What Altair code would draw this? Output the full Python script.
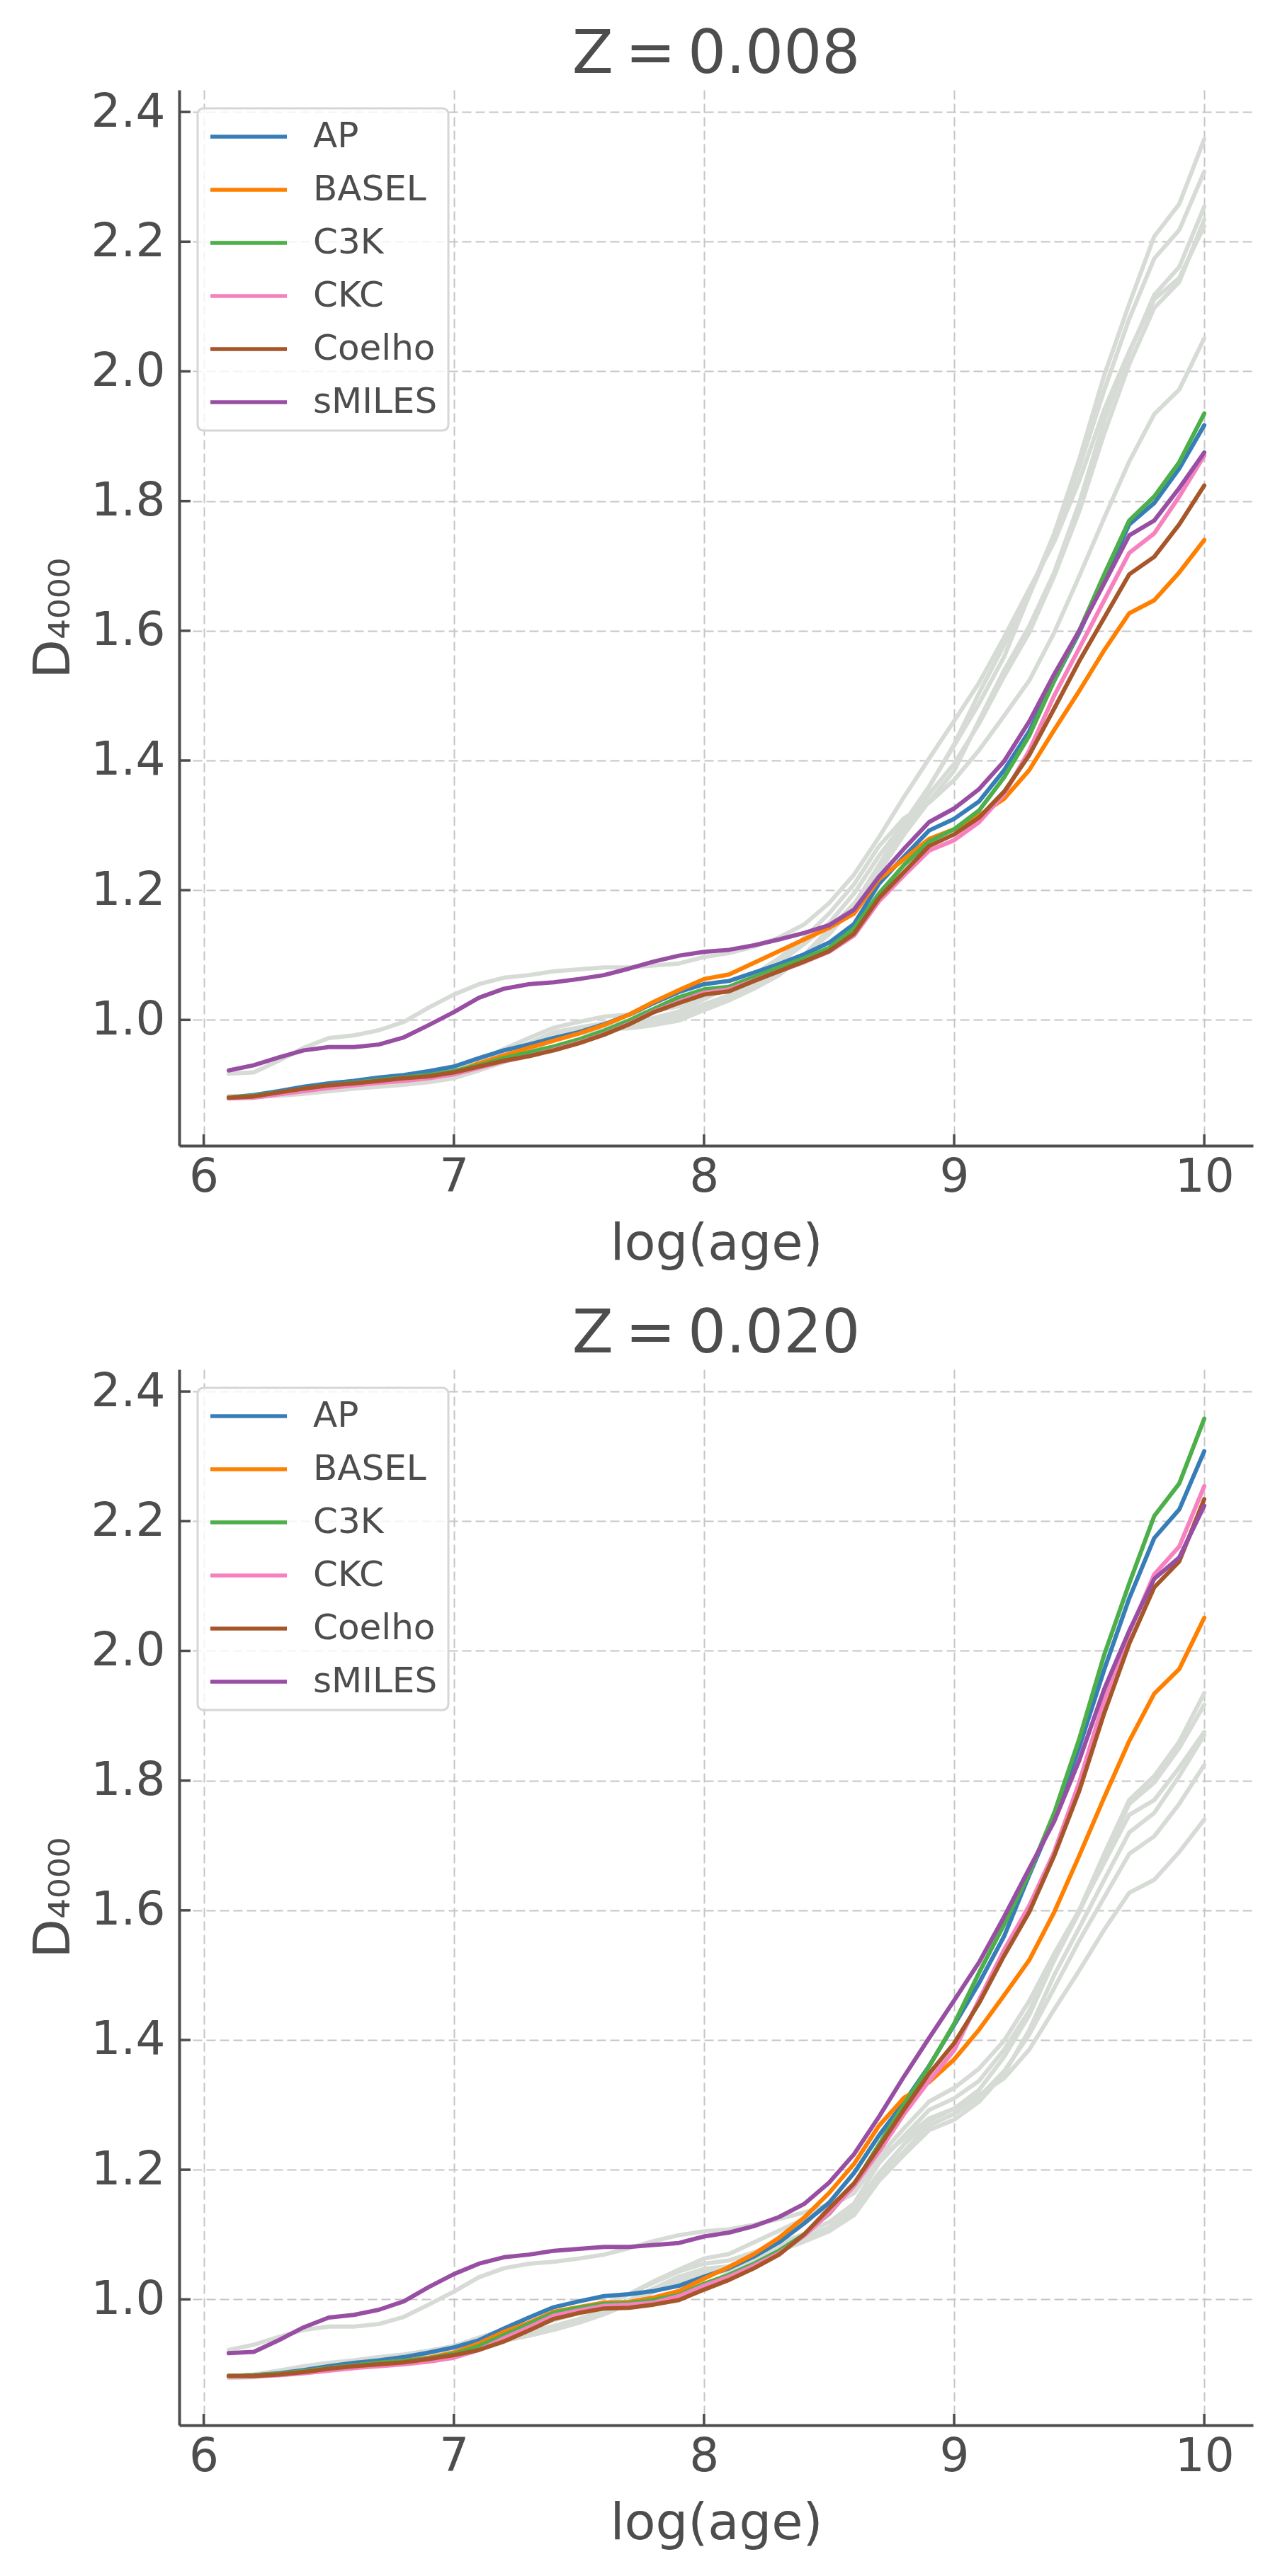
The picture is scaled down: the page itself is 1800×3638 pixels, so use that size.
import altair as alt
import pandas as pd

# ---------------- data ----------------
LOG_AGE = [6.1, 6.2, 6.3, 6.4, 6.5, 6.6, 6.7, 6.8, 6.9, 7.0,
           7.1, 7.2, 7.3, 7.4, 7.5, 7.6, 7.7, 7.8, 7.9, 8.0,
           8.1, 8.2, 8.3, 8.4, 8.5, 8.6, 8.7, 8.8, 8.9, 9.0,
           9.1, 9.2, 9.3, 9.4, 9.5, 9.6, 9.7, 9.8, 9.9, 10.0]

MODELS = ["AP", "BASEL", "C3K", "CKC", "Coelho", "sMILES"]
COLORS = ["#377eb8", "#ff7f00", "#4daf4a", "#f781bf", "#a65628", "#984ea3"]

# Z = 0.008
AP_008 = [0.880, 0.884, 0.890, 0.897, 0.902, 0.906, 0.911, 0.915, 0.921, 0.928,
          0.941, 0.953, 0.962, 0.972, 0.981, 0.993, 1.008, 1.026, 1.043, 1.055,
          1.060, 1.073, 1.086, 1.101, 1.119, 1.148, 1.210, 1.252, 1.292, 1.310,
          1.337, 1.385, 1.445, 1.523, 1.597, 1.680, 1.764, 1.797, 1.850, 1.917]
BASEL_008 = [0.880, 0.882, 0.887, 0.893, 0.898, 0.901, 0.905, 0.909, 0.913, 0.919,
             0.933, 0.945, 0.957, 0.968, 0.979, 0.992, 1.008, 1.028, 1.046, 1.063,
             1.070, 1.088, 1.106, 1.124, 1.142, 1.164, 1.217, 1.248, 1.279, 1.294,
             1.315, 1.341, 1.385, 1.447, 1.507, 1.570, 1.627, 1.647, 1.690, 1.740]
C3K_008 = [0.880, 0.883, 0.888, 0.894, 0.899, 0.903, 0.907, 0.911, 0.915, 0.921,
           0.930, 0.941, 0.950, 0.959, 0.970, 0.983, 0.999, 1.017, 1.035, 1.047,
           1.051, 1.066, 1.081, 1.095, 1.111, 1.141, 1.195, 1.239, 1.275, 1.294,
           1.323, 1.374, 1.438, 1.523, 1.600, 1.687, 1.770, 1.807, 1.860, 1.935]
CKC_008 = [0.879, 0.880, 0.885, 0.890, 0.895, 0.899, 0.903, 0.906, 0.910, 0.916,
           0.926, 0.936, 0.944, 0.954, 0.965, 0.978, 0.994, 1.013, 1.028, 1.042,
           1.047, 1.061, 1.075, 1.089, 1.105, 1.130, 1.183, 1.223, 1.261, 1.277,
           1.305, 1.348, 1.415, 1.500, 1.573, 1.647, 1.720, 1.750, 1.807, 1.870]
COELHO_008 = [0.880, 0.882, 0.888, 0.894, 0.899, 0.902, 0.906, 0.910, 0.913, 0.919,
              0.928, 0.937, 0.944, 0.953, 0.964, 0.977, 0.993, 1.012, 1.026, 1.039,
              1.044, 1.060, 1.075, 1.090, 1.106, 1.133, 1.188, 1.228, 1.268, 1.286,
              1.312, 1.352, 1.408, 1.480, 1.553, 1.620, 1.687, 1.714, 1.764, 1.824]
SMILES_008 = [0.922, 0.930, 0.942, 0.953, 0.958, 0.958, 0.962, 0.973, 0.992, 1.012,
              1.034, 1.048, 1.055, 1.058, 1.063, 1.069, 1.079, 1.090, 1.099, 1.105,
              1.108, 1.115, 1.124, 1.134, 1.146, 1.170, 1.221, 1.264, 1.305, 1.326,
              1.356, 1.399, 1.460, 1.533, 1.600, 1.673, 1.747, 1.770, 1.820, 1.875]

# Z = 0.020
AP_020 = [0.882, 0.883, 0.886, 0.891, 0.897, 0.902, 0.906, 0.911, 0.918, 0.926,
          0.937, 0.955, 0.972, 0.988, 0.997, 1.005, 1.008, 1.013, 1.021, 1.035,
          1.048, 1.066, 1.088, 1.117, 1.149, 1.195, 1.253, 1.304, 1.360, 1.423,
          1.488, 1.560, 1.654, 1.744, 1.851, 1.971, 2.081, 2.174, 2.218, 2.308]
BASEL_020 = [0.882, 0.883, 0.885, 0.889, 0.894, 0.898, 0.902, 0.905, 0.910, 0.918,
             0.932, 0.950, 0.964, 0.981, 0.988, 0.995, 0.996, 1.003, 1.013, 1.032,
             1.050, 1.070, 1.095, 1.126, 1.164, 1.209, 1.268, 1.311, 1.335, 1.370,
             1.416, 1.469, 1.523, 1.597, 1.684, 1.774, 1.861, 1.934, 1.972, 2.051]
C3K_020 = [0.882, 0.883, 0.885, 0.889, 0.894, 0.898, 0.902, 0.905, 0.909, 0.916,
           0.928, 0.945, 0.962, 0.979, 0.987, 0.993, 0.994, 0.999, 1.007, 1.024,
           1.038, 1.055, 1.075, 1.100, 1.132, 1.177, 1.239, 1.301, 1.359, 1.425,
           1.504, 1.578, 1.657, 1.750, 1.864, 1.994, 2.104, 2.208, 2.258, 2.358]
CKC_020 = [0.881, 0.881, 0.883, 0.886, 0.890, 0.894, 0.897, 0.900, 0.904, 0.910,
           0.922, 0.940, 0.957, 0.975, 0.983, 0.990, 0.992, 0.995, 1.005, 1.021,
           1.035, 1.052, 1.071, 1.098, 1.133, 1.175, 1.228, 1.286, 1.337, 1.384,
           1.462, 1.539, 1.607, 1.690, 1.797, 1.924, 2.028, 2.118, 2.161, 2.254]
COELHO_020 = [0.882, 0.882, 0.884, 0.888, 0.893, 0.897, 0.900, 0.903, 0.908, 0.914,
              0.922, 0.935, 0.952, 0.970, 0.979, 0.986, 0.987, 0.992, 0.999, 1.015,
              1.030, 1.048, 1.069, 1.100, 1.140, 1.179, 1.235, 1.293, 1.348, 1.395,
              1.457, 1.530, 1.597, 1.684, 1.784, 1.904, 2.011, 2.098, 2.138, 2.234]
SMILES_020 = [0.917, 0.919, 0.937, 0.957, 0.972, 0.976, 0.984, 0.997, 1.019, 1.039,
              1.055, 1.065, 1.069, 1.075, 1.078, 1.081, 1.081, 1.084, 1.087, 1.097,
              1.103, 1.113, 1.127, 1.147, 1.180, 1.224, 1.282, 1.344, 1.403, 1.461,
              1.520, 1.590, 1.664, 1.737, 1.831, 1.941, 2.031, 2.111, 2.144, 2.224]

SERIES = {
    "0.008": [AP_008, BASEL_008, C3K_008, CKC_008, COELHO_008, SMILES_008],
    "0.020": [AP_020, BASEL_020, C3K_020, CKC_020, COELHO_020, SMILES_020],
}

X_TICKS = [6, 7, 8, 9, 10]
Y_TICKS = [1.0, 1.2, 1.4, 1.6, 1.8, 2.0, 2.2, 2.4]

# ---------------- build table ----------------
rows = []
for z, lists in SERIES.items():
    for m, vals in zip(MODELS, lists):
        for a, d in zip(LOG_AGE, vals):
            rows.append({"Z": z, "model": m, "age": a, "d4000": d})
df = pd.DataFrame(rows)
xt = pd.DataFrame({"age": X_TICKS})
yt = pd.DataFrame({"d4000": Y_TICKS})

W, H = 1516, 1491
TXT = "#4d4d4d"
GRAY = "#d7dbd6"
LW = 6
XS = alt.Scale(domain=[5.902, 10.195], nice=False, zero=False)
YS = alt.Scale(domain=[0.806, 2.434], nice=False, zero=False)
XAX = alt.Axis(values=X_TICKS, format="d", title="log(age)")
YAX = alt.Axis(values=Y_TICKS, format=".1f", title="D₄₀₀₀")


def panel(z_this, z_other):
    xenc = alt.X("age:Q", scale=XS, axis=XAX)
    yenc = alt.Y("d4000:Q", scale=YS, axis=YAX)
    gray = (alt.Chart(df)
            .transform_filter(alt.datum.Z == z_other)
            .mark_line(color=GRAY, strokeWidth=LW, strokeCap="round", strokeJoin="round")
            .encode(x=xenc, y=yenc, detail="model:N"))
    col = (alt.Chart(df)
           .transform_filter(alt.datum.Z == z_this)
           .mark_line(strokeWidth=LW, strokeCap="round", strokeJoin="round")
           .encode(x=xenc, y=yenc,
                   color=alt.Color("model:N",
                                   scale=alt.Scale(domain=MODELS, range=COLORS),
                                   legend=alt.Legend(
                                       title=None, orient="top-left", offset=26,
                                       padding=15, symbolType="M-3,0H3",
                                       symbolSize=1296, symbolStrokeWidth=5.5,
                                       symbolOffset=32, labelOffset=66,
                                       labelFontSize=50, labelColor=TXT,
                                       labelFont="DejaVu Sans", labelLimit=500,
                                       rowPadding=25,
                                       fillColor="rgba(255,255,255,0.8)",
                                       strokeColor="#d6d6d6", cornerRadius=8))))
    ytick = (alt.Chart(yt).mark_rule(color=TXT, strokeWidth=3.5)
             .encode(y=yenc, x=alt.value(0), x2=alt.value(16)))
    xtick = (alt.Chart(xt).mark_rule(color=TXT, strokeWidth=3.5)
             .encode(x=xenc, y=alt.value(H), y2=alt.value(H - 16)))
    return alt.layer(gray, col, ytick, xtick).properties(
        width=W, height=H,
        title=alt.TitleParams(f"Z\u2009=\u2009{z_this}", fontSize=85, fontWeight="normal",
                              color=TXT, font="DejaVu Sans", offset=4))


chart = (alt.vconcat(panel("0.008", "0.020"), panel("0.020", "0.008"), spacing=50)
         .resolve_scale(color="independent")
         .resolve_legend(color="independent")
         .properties(padding={"left": 31, "top": 27, "right": 10, "bottom": 5})
         .configure_view(stroke=None)
         .configure_axis(labelFont="DejaVu Sans", titleFont="DejaVu Sans",
                         labelFontSize=66, titleFontSize=72, labelColor=TXT,
                         titleColor=TXT, titleFontWeight="normal",
                         domainColor=TXT, domainWidth=4, ticks=False,
                         labelPadding=20, titlePadding=16,
                         grid=True, gridColor="#c6c6c6", gridDash=[13, 6],
                         gridWidth=2)
         .configure_axisX(labelPadding=12, titlePadding=26)
         .configure_legend(strokeWidth=3))

chart.save("out.html", embed_options={"renderer": "svg", "actions": False})
